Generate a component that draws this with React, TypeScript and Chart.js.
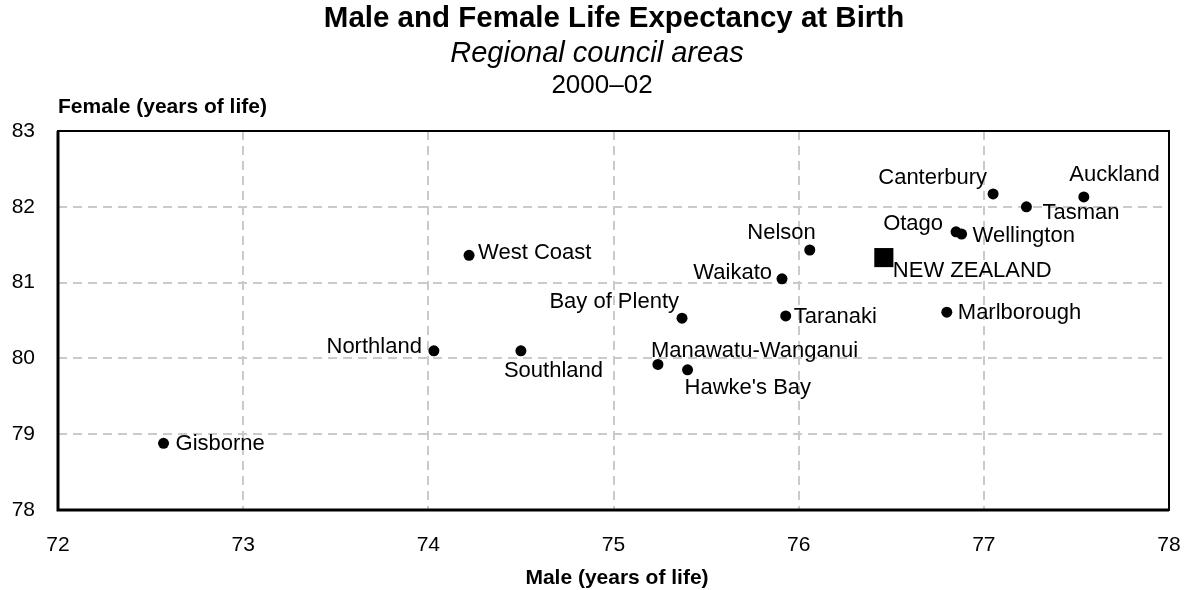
import React, { useEffect, useRef } from 'react';
import { Chart, registerables } from 'chart.js';

Chart.register(...registerables);

// ---- Data ----
const regions = [
  'Gisborne', 'Northland', 'Southland', 'West Coast', 'Bay of Plenty',
  'Manawatu-Wanganui', "Hawke's Bay", 'Waikato', 'Taranaki', 'Nelson',
  'Otago', 'Wellington', 'Canterbury', 'Tasman', 'Auckland', 'Marlborough',
];
const maleLE = [72.57, 74.03, 74.5, 74.22, 75.37, 75.24, 75.4, 75.91, 75.93, 76.06, 76.85, 76.88, 77.05, 77.23, 77.54, 76.8];
const femaleLE = [78.88, 80.1, 80.1, 81.36, 80.53, 79.92, 79.85, 81.05, 80.56, 81.43, 81.67, 81.64, 82.17, 82.0, 82.13, 80.61];

const nzLabels = ['NEW ZEALAND'];
const nzMale = [76.46];
const nzFemale = [81.33];

const xTickValues = [72, 73, 74, 75, 76, 77, 78];
const yTickValues = [78, 79, 80, 81, 82, 83];

const titleText = 'Male and Female Life Expectancy at Birth';
const subtitleText = 'Regional council areas';
const periodText = '2000\u201302';
const xAxisTitle = 'Male (years of life)';
const yAxisTitle = 'Female (years of life)';

// ---- Label placement (style, not data) ----
type Place = { align: CanvasTextAlign; dx: number; dy: number };
const labelPlacement: Record<string, Place> = {
  'Gisborne': { align: 'left', dx: 12, dy: 1 },
  'Northland': { align: 'right', dx: -12, dy: -4 },
  'Southland': { align: 'left', dx: -17, dy: 20 },
  'West Coast': { align: 'left', dx: 9, dy: -2 },
  'Bay of Plenty': { align: 'right', dx: -3, dy: -16 },
  'Manawatu-Wanganui': { align: 'left', dx: -7, dy: -14 },
  "Hawke's Bay": { align: 'left', dx: -3, dy: 18 },
  'Waikato': { align: 'right', dx: -10, dy: -6 },
  'Taranaki': { align: 'left', dx: 8, dy: 1 },
  'Nelson': { align: 'right', dx: 6, dy: -17 },
  'Otago': { align: 'right', dx: -13, dy: -8 },
  'Wellington': { align: 'left', dx: 11, dy: 2 },
  'Canterbury': { align: 'right', dx: -6, dy: -16 },
  'Tasman': { align: 'left', dx: 16, dy: 6 },
  'Auckland': { align: 'right', dx: 76, dy: -22 },
  'Marlborough': { align: 'left', dx: 11, dy: 1 },
  'NEW ZEALAND': { align: 'left', dx: 9, dy: 13 },
};

const FONT = '"Liberation Sans", Arial, sans-serif';

const labelsPlugin = {
  id: 'pointLabels',
  afterDatasetsDraw(chart: any) {
    const ctx = chart.ctx;
    ctx.save();
    ctx.fillStyle = '#000';
    ctx.font = `22px ${FONT}`;
    ctx.textBaseline = 'middle';
    chart.data.datasets.forEach((ds: any, di: number) => {
      const meta = chart.getDatasetMeta(di);
      meta.data.forEach((pt: any, i: number) => {
        const name = ds.names[i];
        const p = labelPlacement[name] || { align: 'left', dx: 10, dy: 0 };
        ctx.textAlign = p.align;
        ctx.fillText(name, pt.x + p.dx, pt.y + p.dy);
      });
    });
    ctx.restore();
  },
};

const framePlugin = {
  id: 'frameAndTitles',
  afterDraw(chart: any) {
    const ctx = chart.ctx;
    const a = chart.chartArea;
    ctx.save();
    ctx.strokeStyle = '#000';
    ctx.lineWidth = 2;
    ctx.strokeRect(a.left, a.top, a.right - a.left, a.bottom - a.top);
    ctx.lineWidth = 3;
    ctx.beginPath();
    ctx.moveTo(a.left, a.top);
    ctx.lineTo(a.left, a.bottom);
    ctx.lineTo(a.right, a.bottom);
    ctx.stroke();

    ctx.fillStyle = '#000';
    ctx.textBaseline = 'middle';
    ctx.textAlign = 'center';
    ctx.font = `bold 29.5px ${FONT}`;
    ctx.fillText(titleText, 614, 19);
    ctx.font = `italic 29px ${FONT}`;
    ctx.fillText(subtitleText, 597, 54);
    ctx.font = `26px ${FONT}`;
    ctx.fillText(periodText, 602, 86);

    ctx.font = `bold 21px ${FONT}`;
    ctx.textAlign = 'left';
    ctx.fillText(yAxisTitle, 58, 107);
    ctx.textAlign = 'center';
    ctx.fillText(xAxisTitle, 617, 578);
    ctx.restore();
  },
};

export default function App() {
  const ref = useRef<HTMLCanvasElement | null>(null);
  useEffect(() => {
    document.body.style.margin = '0';
    if (!ref.current) return;
    const chart = new Chart(ref.current, {
      type: 'scatter',
      data: {
        datasets: [
          {
            label: 'Regions',
            names: regions,
            data: regions.map((_, i) => ({ x: maleLE[i], y: femaleLE[i] })),
            pointStyle: 'circle',
            pointRadius: 5.5,
            pointBackgroundColor: '#000',
            pointBorderColor: '#000',
            pointBorderWidth: 0,
          } as any,
          {
            label: 'New Zealand',
            names: nzLabels,
            data: nzLabels.map((_, i) => ({ x: nzMale[i], y: nzFemale[i] })),
            pointStyle: 'rect',
            pointRadius: 13.5,
            pointBackgroundColor: '#000',
            pointBorderColor: '#000',
            pointBorderWidth: 0,
          } as any,
        ],
      },
      options: {
        animation: false,
        responsive: false,
        layout: { padding: { top: 131, right: 24, left: 0, bottom: 0 } },
        plugins: {
          legend: { display: false },
          tooltip: { enabled: false },
          title: { display: false },
        },
        scales: {
          x: {
            type: 'linear',
            min: 72,
            max: 78,
            afterFit: (s: any) => { s.height = 80; s.paddingLeft = 0; s.paddingRight = 0; },
            afterBuildTicks: (s: any) => { s.ticks = xTickValues.map((v) => ({ value: v })); },
            ticks: { color: '#000', font: { family: FONT, size: 21 }, padding: 23, maxRotation: 0 },
            grid: { color: '#cacaca', lineWidth: 2, drawTicks: false },
            border: { display: false, dash: [9, 6] },
          },
          y: {
            type: 'linear',
            min: 78,
            max: 83,
            afterFit: (s: any) => { s.width = 58; s.paddingTop = 0; s.paddingBottom = 0; },
            afterBuildTicks: (s: any) => { s.ticks = yTickValues.map((v) => ({ value: v })); },
            ticks: { color: '#000', font: { family: FONT, size: 21 }, padding: 23 },
            grid: { color: '#cacaca', lineWidth: 2, drawTicks: false },
            border: { display: false, dash: [9, 6] },
          },
        },
      } as any,
      plugins: [labelsPlugin, framePlugin],
    });
    return () => chart.destroy();
  }, []);
  return (
    <div style={{ width: 1193, height: 590, background: '#fff' }}>
      <canvas ref={ref} width={1193} height={590} style={{ display: 'block' }} />
    </div>
  );
}
